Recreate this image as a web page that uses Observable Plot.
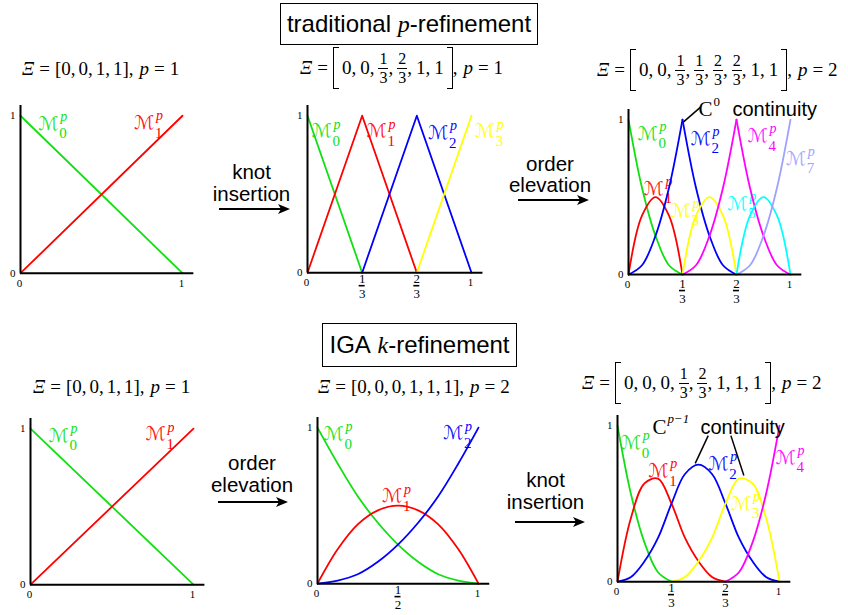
<!DOCTYPE html>
<html>
<head>
<meta charset="utf-8">
<script src="https://cdn.jsdelivr.net/npm/d3@7"></script>
<script src="https://cdn.jsdelivr.net/npm/@observablehq/plot@0.6"></script>
<style>
  body { margin: 0; background: #fff; }
  #root { position: relative; width: 848px; height: 615px; overflow: hidden; background: #fff;
          font-family: "Liberation Sans", Arial, sans-serif; }
  .box { position: absolute; border: 1.5px solid #000; box-sizing: border-box; display: flex;
         align-items: center; justify-content: center; font-size: 24px; white-space: nowrap; }
  .box i { font-family: "Liberation Serif", serif; font-style: italic; }
  .f { position: absolute; display: flex; align-items: center; font-family: "Liberation Serif", serif;
       font-size: 19px; white-space: nowrap; transform: translateY(-50%); width: max-content; flex-wrap: nowrap; }
  .f > * { flex: none; }
  .f i { font-style: italic; }
  .f .eq { margin: 0 5px; }
  .f .sep { margin-right: 3px; }
  .f.tall .sep { margin-right: 4px; }
  .f .pc { margin-right: 6px; }
  .fr { display: inline-flex; flex-direction: column; align-items: center; font-size: 16px; line-height: 18px; }
  .fr .n { border-bottom: 1px solid #000; padding: 0 1px; }
  .bk { display: inline-block; width: 6px; height: 42px; border: 1.2px solid #000; box-sizing: border-box; }
  .bk.l { border-right: none; margin-right: 3px; }
  .bk.r { border-left: none; margin-left: 3px; }
  svg.ov { position: absolute; left: 0; top: 0; }
</style>
</head>
<body>
<div id="root"></div>
<script>
// ---------------- DATA ----------------
// knot vectors and degrees shown above each panel
const knotsA = ["0", "0", "1", "1"];
const knotsB = ["0", "0", "1/3", "2/3", "1", "1"];
const knotsC = ["0", "0", "1/3", "1/3", "2/3", "2/3", "1", "1"];
const knotsD = ["0", "0", "0", "1", "1", "1"];
const knotsE = ["0", "0", "0", "1/3", "2/3", "1", "1", "1"];

// tick labels
const yTicks = [0, 1];
const xTicksPlain = [0, 1];
const fracThirds = [{v: 1/3, n: "1", d: "3"}, {v: 2/3, n: "2", d: "3"}];
const fracHalf = [{v: 1/2, n: "1", d: "2"}];

// linear basis (panels 1 and 4)
const linX = [0, 1];
const lin_M0 = [1, 0];
const lin_M1 = [0, 1];

// hat functions (panel 2)
const hatX = [0, 1/3, 2/3, 1];
const hat_M0 = [1, 0, null, null];
const hat_M1 = [0, 1, 0, null];
const hat_M2 = [null, 0, 1, 0];
const hat_M3 = [null, null, 0, 1];

// sample grid (every 1/12) for panels 3 and 6
const grid12 = [0, 1/12, 2/12, 3/12, 4/12, 5/12, 6/12, 7/12, 8/12, 9/12, 10/12, 11/12, 1];
const n = null;
// panel 3: C0 quadratic basis
const c0_M0  = [1, .56, .25, .06, 0, n, n, n, n, n, n, n, n];
const c0_M1  = [0, .38, .5, .38, 0, n, n, n, n, n, n, n, n];
const c0_M2a = [0, .06, .25, .56, 1, n, n, n, n, n, n, n, n];
const c0_M2b = [n, n, n, n, 1, .56, .25, .06, 0, n, n, n, n];
const c0_M3  = [n, n, n, n, 0, .38, .5, .38, 0, n, n, n, n];
const c0_M4a = [n, n, n, n, 0, .06, .25, .56, 1, n, n, n, n];
const c0_M4b = [n, n, n, n, n, n, n, n, 1, .56, .25, .06, 0];
const c0_M5  = [n, n, n, n, n, n, n, n, 0, .38, .5, .38, 0];
const c0_M7  = [n, n, n, n, n, n, n, n, 0, .06, .25, .56, 1];

// panel 5: quadratic on [0,1], sampled every 1/8
const grid8 = [0, 1/8, 2/8, 3/8, 4/8, 5/8, 6/8, 7/8, 1];
const q_M0 = [1, .77, .56, .39, .25, .14, .06, .02, 0];
const q_M1 = [0, .22, .38, .47, .5, .47, .38, .22, 0];
const q_M2 = [0, .02, .06, .14, .25, .39, .56, .77, 1];

// panel 6: C1 quadratic basis
const c1_M0 = [1, .56, .25, .06, 0, n, n, n, n, n, n, n, n];
const c1_M1 = [0, .41, .63, .66, .5, .28, .13, .03, 0, n, n, n, n];
const c1_M2 = [0, .03, .13, .28, .5, .69, .75, .69, .5, .28, .13, .03, 0];
const c1_M3 = [n, n, n, n, 0, .03, .13, .28, .5, .66, .63, .41, 0];
const c1_M4 = [n, n, n, n, n, n, n, n, 0, .06, .25, .56, 1];

// basis labels (anchor in data units, index shown)
const lab1 = [{x: .11, y: .95, i: "0"}, {x: .70, y: .955, i: "1"}];
const lab2 = [{x: .025, y: .90, i: "0"}, {x: .36, y: .90, i: "1"}, {x: .735, y: .89, i: "2"}, {x: 1.02, y: .90, i: "3"}];
const lab3 = [{x: .056, y: .91, i: "0"}, {x: .093, y: .555, i: "1"}, {x: .383, y: .877, i: "2"}, {x: .26, y: .413, i: "3"},
              {x: .735, y: .895, i: "4"}, {x: .61, y: .458, i: "5"}, {x: .97, y: .748, i: "7"}];
const lab4 = [{x: .11, y: .955, i: "0"}, {x: .705, y: .965, i: "1"}];
const lab5 = [{x: .037, y: .96, i: "0"}, {x: .40, y: .56, i: "1"}, {x: .78, y: .965, i: "2"}];
const lab6 = [{x: .02, y: .89, i: "0"}, {x: .19, y: .71, i: "1"}, {x: .56, y: .756, i: "2"}, {x: .70, y: .50, i: "3"}, {x: .975, y: .795, i: "4"}];

// continuity annotations (anchor in data units)
const note3 = [{x: .432, y: 1.065, sup: "0", word: "continuity", wx: .642}];
const lead3 = [{x1: .34, y1: .985, x2: .445, y2: 1.08}];
const note6 = [{x: .216, y: .99, sup: "p−1", word: "continuity", wx: .512}];
const lead6 = [{x1: .56, y1: .936, x2: .48, y2: .758}, {x1: .70, y1: .936, x2: .78, y2: .68}];

// ---------------- STYLES ----------------
const GREEN = "#10e010", RED = "#ff0000", BLUE = "#0000ff", YELLOW = "#ffff00",
      MAGENTA = "#ff00ff", CYAN = "#00ffff", LAVENDER = "#a0a0ff";
const SERIF = "Liberation Serif, Times New Roman, serif";
const SCRIPT = "DejaVu Serif, DejaVu Sans, serif";
const SANS = "Liberation Sans, Arial, sans-serif";
const XMAX = 1.07, YMAX = 1.065;
const root = document.getElementById("root");

function rows(xs, ys) { return xs.map((x, i) => ({x, y: ys[i]})).filter(d => d.y != null); }

function lineMarks(series, curve) {
  return series.map(([xs, ys, color]) =>
    Plot.line(rows(xs, ys), {x: "x", y: "y", stroke: color, strokeWidth: 1.8, curve}));
}

function labelMarks(labels, colors) {
  return labels.flatMap((L, k) => [
    Plot.text([L], {x: "x", y: "y", text: () => "ℳ", fill: colors[k], textAnchor: "start", fontSize: 19, fontFamily: SCRIPT, fontStyle: "italic", fillOpacity: 0.9}),
    Plot.text([L], {x: "x", y: "y", text: () => "p", fill: colors[k], textAnchor: "start", dx: 22, dy: -7, fontSize: 14, fontFamily: SERIF, fontStyle: "italic"}),
    Plot.text([L], {x: "x", y: "y", text: "i", fill: colors[k], textAnchor: "start", dx: 21, dy: 10, fontSize: 15, fontFamily: SERIF})
  ]);
}

// fraction bar half-width: 3px converted to data units for a panel pxPerUnit wide
function tickMarks(fracs, pxPerUnit, shift = 0) {
  const hw = 3 / pxPerUnit;
  return [
    Plot.text(yTicks, {x: () => 0, y: d => d, text: d => String(d), textAnchor: "end", dx: -5, fontSize: 11, fontFamily: SERIF}),
    Plot.text(xTicksPlain, {x: d => d, y: () => 0, text: d => String(d), dy: 10, dx: -1, fontSize: 11, fontFamily: SERIF}),
    Plot.text(fracs, {x: "v", y: () => 0, text: "n", dy: 6 + shift, fontSize: 13, fontFamily: SERIF}),
    Plot.ruleY(fracs, {y: () => 0, x1: d => d.v - hw, x2: d => d.v + hw, dy: 13 + shift, stroke: "black", strokeWidth: 1.6}),
    Plot.text(fracs, {x: "v", y: () => 0, text: "d", dy: 21 + shift, fontSize: 13, fontFamily: SERIF})
  ];
}

function noteMarks(note, lead, supStyle) {
  return [
    Plot.link(lead, {x1: "x1", y1: "y1", x2: "x2", y2: "y2", stroke: "black", strokeWidth: 1.5}),
    Plot.text(note, {x: "x", y: "y", text: () => "C", textAnchor: "start", fontSize: 21, fontFamily: SERIF}),
    Plot.text(note, {x: "x", y: "y", text: "sup", textAnchor: "start", dx: 15, dy: -8, fontSize: 13, fontFamily: SERIF, fontStyle: supStyle}),
    Plot.text(note, {x: "wx", y: "y", text: "word", textAnchor: "start", fontSize: 20, fontFamily: SANS})
  ];
}

function panel(g, marks) {
  const ml = 30, mr = 10, mt = 10, mb = 40;
  const xw = g.x1 - g.x0, yh = g.y0 - g.y1;
  const width = ml + xw * XMAX + mr;
  const height = mt + yh * YMAX + mb;
  const chart = Plot.plot({
    width, height, marginLeft: ml, marginRight: mr, marginTop: mt, marginBottom: mb,
    x: {domain: [0, XMAX], axis: null},
    y: {domain: [0, YMAX], axis: null},
    style: {background: "transparent", overflow: "visible"},
    marks: [
      ...marks,
      Plot.ruleX([0], {stroke: "black", strokeWidth: 2}),
      Plot.ruleY([0], {stroke: "black", strokeWidth: 2})
    ]
  });
  chart.style.position = "absolute";
  chart.style.left = (g.x0 - ml) + "px";
  chart.style.top = (g.y0 - mt - yh * YMAX) + "px";
  chart.style.maxWidth = "none";
  root.appendChild(chart);
}

// Panel 1
panel({x0: 20, x1: 182, y0: 272.5, y1: 115}, [
  ...lineMarks([[linX, lin_M0, GREEN], [linX, lin_M1, RED]], "linear"),
  ...labelMarks(lab1, [GREEN, RED]),
  ...tickMarks([], 162)
]);
// Panel 2
panel({x0: 307, x1: 471, y0: 272, y1: 115}, [
  ...lineMarks([[hatX, hat_M0, GREEN], [hatX, hat_M1, RED], [hatX, hat_M2, BLUE], [hatX, hat_M3, YELLOW]], "linear"),
  ...labelMarks(lab2, [GREEN, RED, BLUE, YELLOW]),
  ...tickMarks(fracThirds, 164)
]);
// Panel 3
panel({x0: 628, x1: 790, y0: 274, y1: 119}, [
  ...labelMarks(lab3, [GREEN, RED, BLUE, YELLOW, MAGENTA, CYAN, LAVENDER]),
  ...lineMarks([[grid12, c0_M0, GREEN], [grid12, c0_M1, RED], [grid12, c0_M2a, BLUE], [grid12, c0_M2b, BLUE],
                [grid12, c0_M3, YELLOW], [grid12, c0_M4a, MAGENTA], [grid12, c0_M4b, MAGENTA],
                [grid12, c0_M5, CYAN], [grid12, c0_M7, LAVENDER]], "catmull-rom"),
  ...noteMarks(note3, lead3, "normal"),
  ...tickMarks(fracThirds, 162, 3)
]);
// Panel 4
panel({x0: 30, x1: 193, y0: 584, y1: 428}, [
  ...lineMarks([[linX, lin_M0, GREEN], [linX, lin_M1, RED]], "linear"),
  ...labelMarks(lab4, [GREEN, RED]),
  ...tickMarks([], 163)
]);
// Panel 5
panel({x0: 317, x1: 478, y0: 583, y1: 427}, [
  ...lineMarks([[grid8, q_M0, GREEN], [grid8, q_M1, RED], [grid8, q_M2, BLUE]], "catmull-rom"),
  ...labelMarks(lab5, [GREEN, RED, BLUE]),
  ...tickMarks(fracHalf, 161)
]);
// Panel 6
panel({x0: 617, x1: 779, y0: 581, y1: 425}, [
  ...labelMarks(lab6, [GREEN, RED, BLUE, YELLOW, MAGENTA]),
  ...lineMarks([[grid12, c1_M0, GREEN], [grid12, c1_M1, RED], [grid12, c1_M2, BLUE],
                [grid12, c1_M3, YELLOW], [grid12, c1_M4, MAGENTA]], "catmull-rom"),
  ...noteMarks(note6, lead6, "italic"),
  ...tickMarks(fracThirds, 162)
]);

// ---------------- TEXT DECORATION ----------------
function addBox(html, left, top, w, h) {
  const d = document.createElement("div");
  d.className = "box";
  Object.assign(d.style, {left: left + "px", top: top + "px", width: w + "px", height: h + "px"});
  d.innerHTML = html;
  root.appendChild(d);
}
addBox("traditional&nbsp;<i>p</i>-refinement", 280, 3, 258, 42);
addBox("IGA&nbsp;<i>k</i>-refinement", 322, 323, 195, 44);

function formulaHTML(knots, p) {
  const tall = knots.some(k => k.includes("/"));
  const items = knots.map(k => {
    if (k.includes("/")) { const [a, b] = k.split("/"); return `<span class="fr"><span class="n">${a}</span><span>${b}</span></span>`; }
    return `<span>${k}</span>`;
  }).join(`<span class="sep">,</span>`);
  const open = tall ? `<span class="bk l"></span>` : `<span>[</span>`;
  const close = tall ? `<span class="bk r"></span>` : `<span>]</span>`;
  return `<i>Ξ</i><span class="eq">=</span>${open}${items}${close}<span class="pc">,</span><i>p</i><span class="eq">=</span><span>${p}</span>`;
}
function addFormula(knots, p, left, cy) {
  const d = document.createElement("div");
  d.className = "f" + (knots.some(k => k.includes("/")) ? " tall" : "");
  Object.assign(d.style, {left: left + "px", top: cy + "px"});
  d.innerHTML = formulaHTML(knots, p);
  root.appendChild(d);
}
addFormula(knotsA, 1, 22, 69);
addFormula(knotsB, 1, 300, 68);
addFormula(knotsC, 2, 597, 70);
addFormula(knotsA, 1, 33, 387);
addFormula(knotsD, 2, 318, 387);
addFormula(knotsE, 2, 582, 383);

// transition arrows
const steps = [
  {l1: "knot", l2: "insertion", cx: 251.5, b1: 179, b2: 201, ay: 209, ax1: 219, ax2: 290},
  {l1: "order", l2: "elevation", cx: 550, b1: 171, b2: 192, ay: 200, ax1: 518, ax2: 589},
  {l1: "order", l2: "elevation", cx: 252, b1: 470, b2: 492, ay: 502, ax1: 218, ax2: 288},
  {l1: "knot", l2: "insertion", cx: 545.5, b1: 487, b2: 509, ay: 522, ax1: 515, ax2: 585}
];
const ov = d3.select(root).append("svg").attr("class", "ov").attr("width", 848).attr("height", 615);
for (const s of steps) {
  const g = ov.append("g").attr("font-family", SANS).attr("font-size", 20.5).attr("text-anchor", "middle");
  g.append("text").attr("x", s.cx).attr("y", s.b1).text(s.l1);
  g.append("text").attr("x", s.cx).attr("y", s.b2).text(s.l2);
  g.append("line").attr("x1", s.ax1).attr("x2", s.ax2 - 8).attr("y1", s.ay).attr("y2", s.ay)
    .attr("stroke", "black").attr("stroke-width", 2);
  g.append("polygon").attr("points", `${s.ax2},${s.ay} ${s.ax2 - 12},${s.ay - 5} ${s.ax2 - 9},${s.ay} ${s.ax2 - 12},${s.ay + 5}`)
    .attr("fill", "black");
}
</script>
</body>
</html>
